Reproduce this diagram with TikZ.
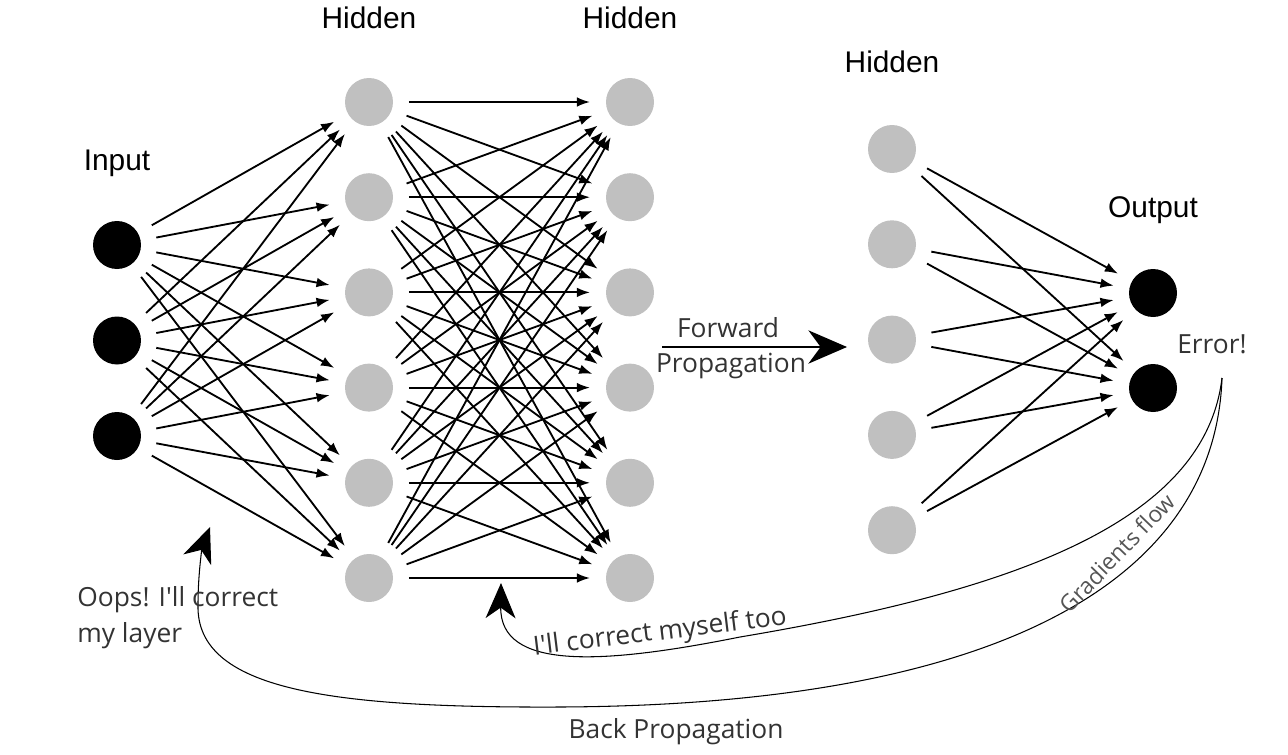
\documentclass[tikz,border=0pt]{standalone}
\usepackage{fontspec}
\setmainfont{Liberation Sans}
\newfontfamily\notefont{Open Sans}
\usetikzlibrary{arrows.meta}
\definecolor{silver}{HTML}{C0C0C0}
\definecolor{notegray}{HTML}{333333}
\definecolor{flowgray}{HTML}{555555}

\begin{document}
\begin{tikzpicture}[x=0.02cm, y=-0.02cm,
  unit/.style={circle, minimum size=0.96cm, inner sep=0pt, outer sep=0.32cm},
  hid/.style={unit, fill=silver},
  io/.style={unit, fill=black},
  conn/.style={line width=1.05pt, -{Latex[length=7.5pt, width=5.5pt]}},
  layer/.style={font=\fontsize{17}{20}\selectfont, anchor=base},
  note/.style={font=\notefont\fontsize{15}{20}\selectfont, text=notegray},
  back/.style={line width=0.6pt, -{Stealth[length=20pt, width=17pt, inset=6pt]}}]
  \useasboundingbox (0, 0) rectangle (1288, 754);

  % layers
  \foreach \k in {1, ..., 3}
    \node[io] (i\k) at (117, {245+95.5*(\k-1)}) {};
  \foreach \k in {1, ..., 6} {
    \node[hid] (a\k) at (369, {102+95.2*(\k-1)}) {};
    \node[hid] (b\k) at (630, {102+95.2*(\k-1)}) {};
  }
  \foreach \k in {1, ..., 5}
    \node[hid] (c\k) at (892, {149+95.3*(\k-1)}) {};
  \foreach \k in {1, 2}
    \node[io] (o\k) at (1153, {293+95*(\k-1)}) {};

  % weights
  \foreach \p in {1, ..., 3}
    \foreach \q in {1, ..., 6}
      \draw[conn] (i\p) -- (a\q);
  \foreach \p in {1, ..., 6}
    \foreach \q in {1, ..., 6}
      \draw[conn] (a\p) -- (b\q);
  \foreach \p in {1, ..., 5}
    \foreach \q in {1, 2}
      \draw[conn] (c\p) -- (o\q);

  % layer names
  \node[layer] (lin) at (117, 170) {Input};
  \node[layer] (lha) at (369, 28) {Hidden};
  \node[layer] (lhb) at (630, 28) {Hidden};
  \node[layer] (lhc) at (892, 72) {Hidden};
  \node[layer] (lout) at (1153, 217) {Output};

  % forward
  \coordinate (fwa) at (662, 347);
  \coordinate (fwb) at (847, 347);
  \draw[line width=0.8pt, -{Stealth[length=22pt, width=19pt, inset=7pt]}] (fwa) -- (fwb);
  \node[note, anchor=base] (fwd) at (728, 337) {Forward};
  \node[note, anchor=base] (prop) at (731, 372) {Propagation};

  % backward
  \node[note, anchor=base] (err) at (1212, 353) {Error!};
  \coordinate (src) at (1222, 378);
  \coordinate (fixa) at (210, 527);
  \coordinate (fixb) at (501, 583);
  \draw[back] (src) .. controls (1215, 580) and (1000, 705) .. (560, 707)
    .. controls (330, 708) and (196, 690) .. (198, 605)
    .. controls (198, 570) and (203, 545) .. (fixa);
  \draw[back] (src) .. controls (1205, 520) and (1020, 590) .. (740, 637)
    .. controls (600, 665) and (500, 670) .. (fixb);
  \node[note, anchor=base west, align=left, inner sep=0pt] (oops) at (77, 642) {Oops! I'll correct\\my layer};
  \node[note, rotate=7] (self) at (660, 633) {I'll correct myself too};
  \node[note, font=\notefont\fontsize{13}{16}\selectfont, text=flowgray, rotate=46] (grad) at (1117, 553) {Gradients flow};
  \node[note, anchor=base] (bp) at (676, 738) {Back Propagation};
\end{tikzpicture}
\end{document}
